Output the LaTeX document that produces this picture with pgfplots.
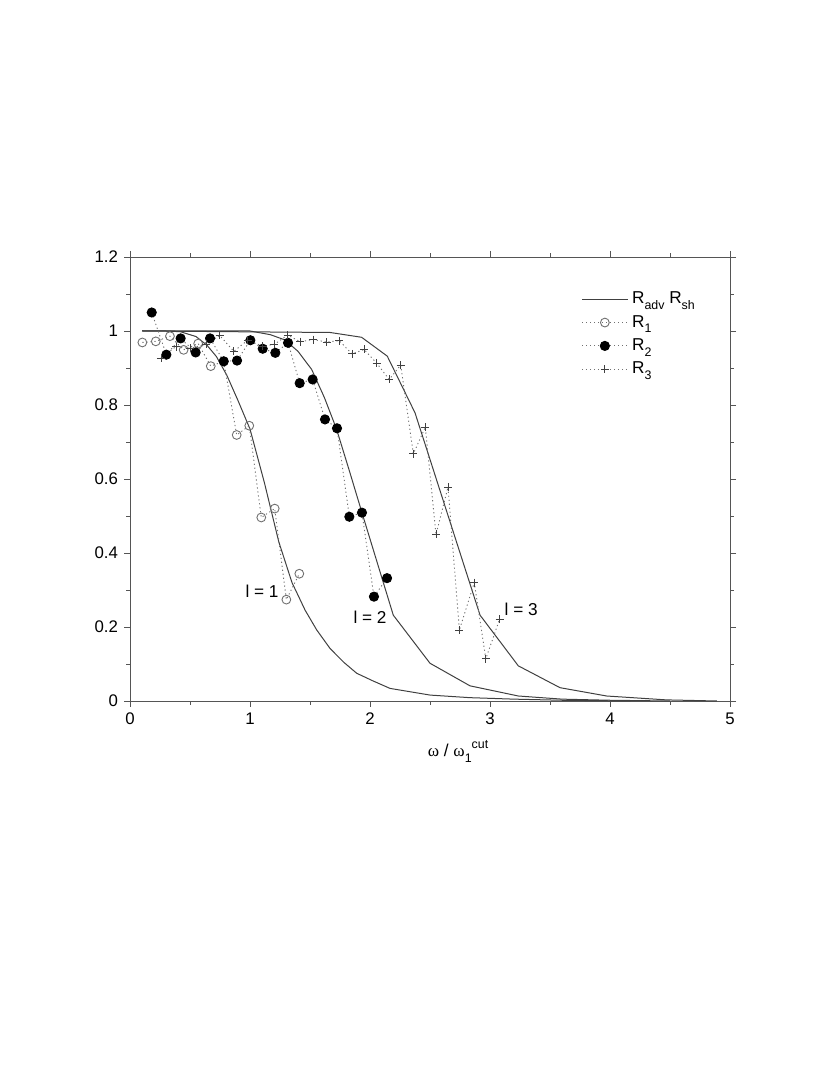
\documentclass[border=0pt]{standalone}
\usepackage{fontspec}
\setmainfont{Liberation Sans}
\newfontfamily\grk{Liberation Serif}
\usepackage{pgfplots}
\pgfplotsset{compat=1.18}
\definecolor{axgray}{HTML}{555555}
\definecolor{curvegray}{HTML}{404040}
\definecolor{dotgray}{HTML}{707070}
\newcommand{\sub}[1]{\raisebox{-0.6ex}{\fontsize{6.2}{7}\selectfont #1}}
\begin{document}
\fontsize{8.4}{10}\selectfont
\begin{tikzpicture}
\useasboundingbox (0,0) rectangle (415pt,537.5pt);
\begin{axis}[
  at={(65pt,187pt)}, anchor=south west,
  scale only axis, width=300pt, height=222pt,
  xmin=0, xmax=5, ymin=0, ymax=1.2,
  xtick={0,1,2,3,4,5},
  ytick={0,0.2,0.4,0.6,0.8,1,1.2},
  minor xtick={0.5,1.5,2.5,3.5,4.5},
  minor ytick={0.1,0.3,0.5,0.7,0.9,1.1},
  tick align=outside, major tick length=3pt, minor tick length=1.8pt,
  axis line style={axgray, line width=0.45pt},
  every tick/.style={axgray, line width=0.45pt},
  /pgf/number format/assume math mode=true,
  tick label style={font=\fontsize{8.4}{10}\selectfont},
  xlabel={{\grk ω} / {\grk ω}\sub{1}\raisebox{0.9ex}{\fontsize{6.2}{7}\selectfont cut}},
  xlabel style={font=\fontsize{8.6}{10}\selectfont, xshift=14pt, yshift=-2pt},
  legend style={draw=none, fill=none, at={(0.742,0.94)}, anchor=north west,
    font=\fontsize{8.6}{10}\selectfont, row sep=0.5pt},
  legend cell align=left,
  legend image code/.code={\draw[mark repeat=2,mark phase=2] plot coordinates {(0cm,0cm)(0.4cm,0cm)(0.8cm,0cm)};},
  clip=false,
]
% theoretical curves
\addplot[curvegray, line width=0.5pt, mark=none] coordinates {
 (0.1,1.0)(0.3,1.0)(0.42,0.998)(0.55,0.985)(0.64,0.962)(0.72,0.931)(0.806,0.881)
 (0.9,0.812)(1.0,0.735)(1.12,0.59)(1.24,0.43)(1.35,0.32)(1.46,0.245)(1.556,0.192)
 (1.667,0.142)(1.78,0.105)(1.889,0.075)(2.02,0.055)(2.167,0.034)(2.5,0.016)
 (2.833,0.009)(3.2,0.005)(3.6,0.002)(4.17,0.0)};
\addlegendentry{R\sub{adv} R\sub{sh}}
\addplot[curvegray, line width=0.5pt, mark=none, forget plot] coordinates {
 (0.1,1.0)(1.0,1.0)(1.17,0.99)(1.29,0.976)(1.4,0.945)(1.514,0.896)(1.62,0.82)
 (1.72,0.736)(1.83,0.62)(1.933,0.509)(2.194,0.232)(2.5,0.102)(2.833,0.041)
 (3.236,0.0135)(3.6,0.005)(4.0,0.002)(4.5,0.0)};
\addplot[curvegray, line width=0.5pt, mark=none, forget plot] coordinates {
 (0.1,1.0)(1.667,0.996)(1.93,0.983)(2.144,0.932)(2.375,0.779)(2.917,0.232)
 (3.236,0.095)(3.583,0.036)(3.972,0.0135)(4.47,0.003)(4.89,0.0)};
% R1
\addplot[dotgray, line width=0.45pt, dash pattern=on 0.6pt off 1.4pt,
  mark=o, mark size=2.2pt, mark options={solid, draw=dotgray, line width=0.45pt}] coordinates {
 (0.103,0.969)(0.215,0.972)(0.333,0.986)(0.447,0.949)(0.568,0.966)(0.673,0.905)
 (0.781,0.918)(0.889,0.719)(0.994,0.744)(1.094,0.496)(1.206,0.520)(1.303,0.274)(1.411,0.344)};
\addlegendentry{R\sub{1}}
% R2
\addplot[dotgray, line width=0.45pt, dash pattern=on 0.6pt off 1.4pt,
  mark=*, mark size=2.3pt, mark options={solid, draw=black, fill=black}] coordinates {
 (0.181,1.050)(0.303,0.936)(0.422,0.980)(0.547,0.942)(0.667,0.980)(0.781,0.918)
 (0.892,0.920)(1.003,0.975)(1.106,0.952)(1.211,0.941)(1.317,0.968)(1.414,0.859)
 (1.522,0.869)(1.625,0.761)(1.725,0.737)(1.828,0.498)(1.933,0.509)(2.033,0.282)(2.142,0.332)};
\addlegendentry{R\sub{2}}
% R3
\addplot[dotgray, line width=0.45pt, dash pattern=on 0.6pt off 1.4pt,
  mark=+, mark size=2pt, mark options={solid, draw=black!75, line width=0.45pt}] coordinates {
 (0.258,0.927)(0.383,0.958)(0.5,0.953)(0.633,0.964)(0.747,0.988)(0.865,0.945)
 (0.98,0.975)(1.106,0.959)(1.203,0.964)(1.314,0.989)(1.417,0.971)(1.527,0.977)
 (1.638,0.970)(1.743,0.974)(1.85,0.938)(1.951,0.950)(2.056,0.913)(2.16,0.869)
 (2.256,0.908)(2.361,0.668)(2.461,0.740)(2.55,0.450)(2.65,0.578)(2.745,0.192)
 (2.869,0.320)(2.965,0.114)(3.08,0.221)};
\addlegendentry{R\sub{3}}
\node[font=\fontsize{8.6}{10}\selectfont] at (axis cs:1.1,0.297) {l = 1};
\node[font=\fontsize{8.6}{10}\selectfont] at (axis cs:2.0,0.227) {l = 2};
\node[font=\fontsize{8.6}{10}\selectfont] at (axis cs:3.26,0.248) {l = 3};
\end{axis}
\end{tikzpicture}
\end{document}
